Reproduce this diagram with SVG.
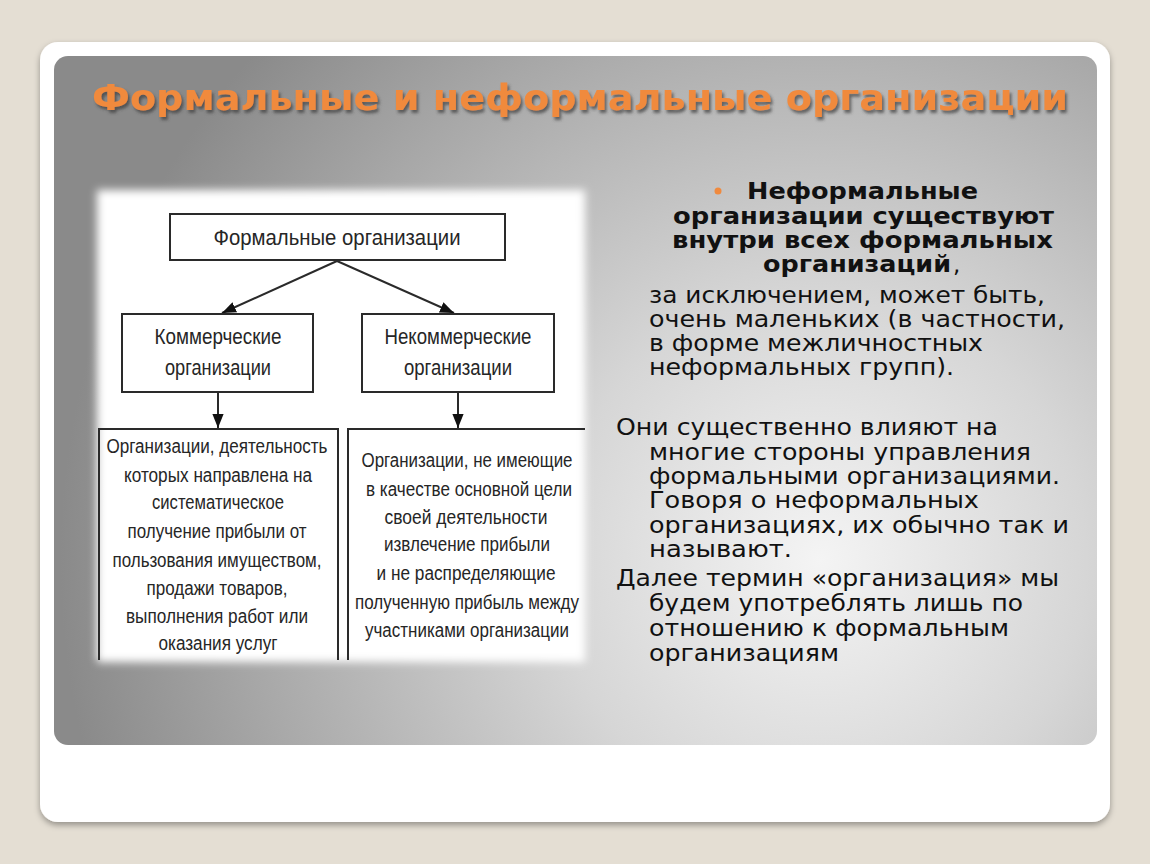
<svg xmlns="http://www.w3.org/2000/svg" width="1150" height="864" viewBox="0 0 1150 864">
<defs>
<radialGradient id="panelGrad" gradientUnits="userSpaceOnUse" cx="820" cy="560" r="760">
<stop offset="0" stop-color="#f4f4f4"/>
<stop offset="0.35" stop-color="#d6d6d6"/>
<stop offset="0.75" stop-color="#a8a8a8"/>
<stop offset="1" stop-color="#8a8a8a"/>
</radialGradient>
<filter id="cardShadow" x="-5%" y="-5%" width="110%" height="110%">
<feDropShadow dx="0" dy="3" stdDeviation="3" flood-color="#000" flood-opacity="0.35"/>
</filter>
<filter id="titleShadow" x="-5%" y="-30%" width="110%" height="160%">
<feDropShadow dx="2" dy="3" stdDeviation="1.6" flood-color="#3a3a3a" flood-opacity="0.7"/>
</filter>
<filter id="soft" x="-10%" y="-10%" width="120%" height="120%">
<feGaussianBlur stdDeviation="4"/>
</filter>
<marker id="arrBig" viewBox="0 0 10 10" refX="10" refY="5" markerWidth="14" markerHeight="14" markerUnits="userSpaceOnUse" orient="auto">
<path d="M0,1 L10,5 L0,9 z" fill="#111"/>
</marker>
</defs>
<style>
.box{fill:#ffffff;stroke:#2a2a2a;stroke-width:2}
.edge{fill:none;stroke:#2a2a2a;stroke-width:2}
.dt{font-family:"Liberation Sans",Arial,sans-serif;fill:#262626;text-anchor:middle}
.d1{font-size:22px}
.d2{font-size:20px}
.rt{font-family:"DejaVu Sans",Verdana,sans-serif;fill:#111;font-size:23px}
.rb{font-family:"DejaVu Sans",Verdana,sans-serif;fill:#111;font-size:23px;font-weight:bold}
.title{font-family:"DejaVu Sans",Verdana,sans-serif;font-weight:bold;font-size:36px;fill:#f08a3e}
</style>

<rect x="0" y="0" width="1150" height="864" fill="#e4ded3"/>
<rect x="40" y="42" width="1070" height="780" rx="18" fill="#ffffff" filter="url(#cardShadow)"/>
<rect x="54" y="56" width="1043" height="689" rx="14" fill="url(#panelGrad)"/>

<text class="title" x="92" y="110" textLength="976" lengthAdjust="spacingAndGlyphs" filter="url(#titleShadow)">Формальные и неформальные организации</text>

<rect x="97" y="190" width="488" height="472" fill="#ffffff" filter="url(#soft)"/>

<g id="connectors">
<line class="edge" x1="337" y1="261" x2="222" y2="313" marker-end="url(#arrBig)"/>
<line class="edge" x1="337" y1="261" x2="454" y2="313" marker-end="url(#arrBig)"/>
<line class="edge" x1="218" y1="393" x2="218" y2="428" marker-end="url(#arrBig)"/>
<line class="edge" x1="458" y1="393" x2="458" y2="428" marker-end="url(#arrBig)"/>
</g>

<g id="node-formal">
<rect class="box" x="170" y="214" width="335" height="46"/>
<text class="dt d1" x="337" y="245" textLength="247" lengthAdjust="spacingAndGlyphs">Формальные организации</text>
</g>

<g id="node-commercial">
<rect class="box" x="122" y="314" width="191" height="78"/>
<text class="dt d1" x="218" y="344" textLength="127" lengthAdjust="spacingAndGlyphs">Коммерческие</text>
<text class="dt d1" x="218" y="375" textLength="106" lengthAdjust="spacingAndGlyphs">организации</text>
</g>

<g id="node-noncommercial">
<rect class="box" x="362" y="314" width="192" height="78"/>
<text class="dt d1" x="458" y="344" textLength="147" lengthAdjust="spacingAndGlyphs">Некоммерческие</text>
<text class="dt d1" x="458" y="375" textLength="108" lengthAdjust="spacingAndGlyphs">организации</text>
</g>

<g id="node-commercial-desc">
<path class="edge" d="M99,660 L99,429 L338,429 L338,660"/>
<text class="dt d2" x="217" y="453" textLength="221" lengthAdjust="spacingAndGlyphs">Организации, деятельность</text>
<text class="dt d2" x="218" y="482" textLength="188" lengthAdjust="spacingAndGlyphs">которых направлена на</text>
<text class="dt d2" x="218" y="509" textLength="132" lengthAdjust="spacingAndGlyphs">систематическое</text>
<text class="dt d2" x="217" y="538" textLength="179" lengthAdjust="spacingAndGlyphs">получение прибыли от</text>
<text class="dt d2" x="217" y="567" textLength="209" lengthAdjust="spacingAndGlyphs">пользования имуществом,</text>
<text class="dt d2" x="217" y="595" textLength="141" lengthAdjust="spacingAndGlyphs">продажи товаров,</text>
<text class="dt d2" x="217" y="623" textLength="182" lengthAdjust="spacingAndGlyphs">выполнения работ или</text>
<text class="dt d2" x="218" y="650" textLength="119" lengthAdjust="spacingAndGlyphs">оказания услуг</text>
</g>

<g id="node-noncommercial-desc">
<path class="edge" d="M348,660 L348,429 L585,429"/>
<text class="dt d2" x="467" y="467" textLength="211" lengthAdjust="spacingAndGlyphs">Организации, не имеющие</text>
<text class="dt d2" x="469" y="496" textLength="206" lengthAdjust="spacingAndGlyphs">в качестве основной цели</text>
<text class="dt d2" x="466" y="524" textLength="163" lengthAdjust="spacingAndGlyphs">своей деятельности</text>
<text class="dt d2" x="467" y="551" textLength="166" lengthAdjust="spacingAndGlyphs">извлечение прибыли</text>
<text class="dt d2" x="466" y="580" textLength="179" lengthAdjust="spacingAndGlyphs">и не распределяющие</text>
<text class="dt d2" x="467" y="609" textLength="224" lengthAdjust="spacingAndGlyphs">полученную прибыль между</text>
<text class="dt d2" x="467" y="637" textLength="204" lengthAdjust="spacingAndGlyphs">участниками организации</text>
</g>

<g id="text-right">
<circle cx="718" cy="191" r="3.5" fill="#f08a3e"/>
<text class="rb" x="747" y="199" textLength="231" lengthAdjust="spacingAndGlyphs">Неформальные</text>
<text class="rb" x="673" y="224" textLength="381" lengthAdjust="spacingAndGlyphs">организации существуют</text>
<text class="rb" x="672" y="248" textLength="381" lengthAdjust="spacingAndGlyphs">внутри всех формальных</text>
<text class="rb" x="763" y="272" textLength="188" lengthAdjust="spacingAndGlyphs">организаций</text>
<text class="rt" x="953" y="272">,</text>
<text class="rt" x="649" y="303" textLength="396" lengthAdjust="spacingAndGlyphs">за исключением, может быть,</text>
<text class="rt" x="649" y="327" textLength="416" lengthAdjust="spacingAndGlyphs">очень маленьких (в частности,</text>
<text class="rt" x="649" y="351" textLength="334" lengthAdjust="spacingAndGlyphs">в форме межличностных</text>
<text class="rt" x="649" y="375" textLength="305" lengthAdjust="spacingAndGlyphs">неформальных групп).</text>
<text class="rt" x="616" y="435" textLength="382" lengthAdjust="spacingAndGlyphs">Они существенно влияют на</text>
<text class="rt" x="649" y="460" textLength="382" lengthAdjust="spacingAndGlyphs">многие стороны управления</text>
<text class="rt" x="649" y="484" textLength="411" lengthAdjust="spacingAndGlyphs">формальными организациями.</text>
<text class="rt" x="649" y="508" textLength="330" lengthAdjust="spacingAndGlyphs">Говоря о неформальных</text>
<text class="rt" x="649" y="533" textLength="420" lengthAdjust="spacingAndGlyphs">организациях, их обычно так и</text>
<text class="rt" x="649" y="557" textLength="143" lengthAdjust="spacingAndGlyphs">называют.</text>
<text class="rt" x="616" y="586" textLength="443" lengthAdjust="spacingAndGlyphs">Далее термин «организация» мы</text>
<text class="rt" x="649" y="611" textLength="374" lengthAdjust="spacingAndGlyphs">будем употреблять лишь по</text>
<text class="rt" x="649" y="636" textLength="360" lengthAdjust="spacingAndGlyphs">отношению к формальным</text>
<text class="rt" x="649" y="661" textLength="190" lengthAdjust="spacingAndGlyphs">организациям</text>
</g>
</svg>
